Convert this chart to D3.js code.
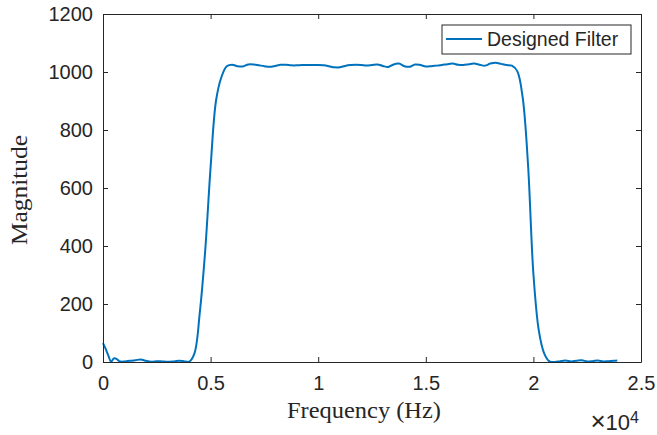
<!DOCTYPE html>
<html>
<head>
<meta charset="utf-8">
<script src="https://cdn.jsdelivr.net/npm/d3@7"></script>
<style>
  body { margin: 0; background: #fff; }
  svg text { fill: #262626; }
</style>
</head>
<body>
<div id="chart"></div>
<script>
const width = 657;
const height = 435;
const margin = { left: 103, top: 14, right: 16, bottom: 73 };
const chartWidth = width - margin.left - margin.right;
const chartHeight = height - margin.top - margin.bottom;

// frequency grid (Hz) and magnitude
const frequency = [
  0, 125, 250, 375, 500, 625, 750, 875, 1000, 1250, 1500, 1750, 2000, 2250, 2500, 2750, 3000, 3250, 3500, 3750,
  4000, 4250, 4500, 4750, 5000, 5250, 5500, 5750, 6000, 6250, 6500, 6750, 7000, 7250, 7500, 7750,
  8000, 8250, 8500, 8750, 9000, 9250, 9500, 9750, 10000, 10250, 10500, 10750, 11000, 11250, 11500, 11750,
  12000, 12250, 12500, 12750, 13000, 13250, 13500, 13750, 14000, 14250, 14500, 14750, 15000, 15250, 15500, 15750,
  16000, 16250, 16500, 16750, 17000, 17250, 17500, 17750, 18000, 18250, 18500, 18750, 19000, 19250, 19500, 19750,
  20000, 20250, 20500, 20750, 21000, 21250, 21500, 21750, 22000, 22250, 22500, 22750, 23000, 23250, 23500, 23750,
  23900,
];
const magnitude = [
  65, 45, 22, 1, 12, 11, 3, 1, 2, 4, 6, 9, 4, 1, 3, 2, 1, 2, 4, 3,
  1, 30, 172, 385, 672, 900, 982, 1020, 1025, 1020, 1019, 1026, 1026, 1023, 1020, 1018,
  1021, 1025, 1025, 1023, 1023, 1024, 1024, 1024, 1024, 1023, 1020, 1016, 1016, 1021, 1024, 1025,
  1024, 1022, 1024, 1026, 1021, 1017, 1026, 1029, 1020, 1018, 1026, 1024, 1019, 1020, 1022, 1024,
  1027, 1029, 1025, 1024, 1027, 1029, 1025, 1022, 1029, 1032, 1028, 1024, 1022, 1003, 913, 681,
  304, 109, 30, 2, 0, 3, 5, 2, 4, 6, 2, 3, 5, 2, 3, 4,
  5,
];

const xTicks = [0, 5000, 10000, 15000, 20000, 25000];
const xTickLabels = ["0", "0.5", "1", "1.5", "2", "2.5"];
const yTicks = [0, 200, 400, 600, 800, 1000, 1200];

const axisColor = "#262626";
const lineColor = "#0072bd";
const tickLen = 5;
const sansFont = "'Liberation Sans', Arial, sans-serif";
const serifFont = "'Liberation Serif', 'Times New Roman', serif";

const data = frequency.map((f, i) => ({ f: f, m: magnitude[i] }));

const svg = d3
  .select("#chart")
  .append("svg")
  .attr("width", width)
  .attr("height", height)
  .append("g")
  .attr("transform", "translate(" + margin.left + "," + margin.top + ")");

const x = d3.scaleLinear().domain([0, 25000]).range([0, chartWidth]);
const y = d3.scaleLinear().domain([0, 1200]).range([chartHeight, 0]);

// curve
svg
  .append("path")
  .datum(data)
  .attr("fill", "none")
  .attr("stroke", lineColor)
  .attr("stroke-width", 2)
  .attr("stroke-linejoin", "round")
  .attr(
    "d",
    d3
      .line()
      .curve(d3.curveCatmullRom.alpha(0.5))
      .x((d) => x(d.f))
      .y((d) => y(d.m))
  );

// axes
const bottomAxis = svg
  .append("g")
  .attr("transform", "translate(0," + chartHeight + ")")
  .call(
    d3
      .axisBottom(x)
      .tickValues(xTicks)
      .tickFormat((d, i) => xTickLabels[i])
      .tickSizeInner(-tickLen)
      .tickSizeOuter(0)
      .tickPadding(14)
  );

const leftAxis = svg
  .append("g")
  .call(
    d3
      .axisLeft(y)
      .tickValues(yTicks)
      .tickFormat(d3.format("d"))
      .tickSizeInner(-tickLen)
      .tickSizeOuter(0)
      .tickPadding(10)
  );

const topAxis = svg
  .append("g")
  .call(d3.axisTop(x).tickValues(xTicks).tickFormat("").tickSizeInner(-tickLen).tickSizeOuter(0));

const rightAxis = svg
  .append("g")
  .attr("transform", "translate(" + chartWidth + ",0)")
  .call(d3.axisRight(y).tickValues(yTicks).tickFormat("").tickSizeInner(-tickLen).tickSizeOuter(0));

[bottomAxis, leftAxis, topAxis, rightAxis].forEach((a) => {
  a.select(".domain").attr("stroke", axisColor).attr("stroke-width", 1);
  a.selectAll(".tick line").attr("stroke", axisColor).attr("stroke-width", 1);
  a.selectAll(".tick text")
    .attr("fill", axisColor)
    .style("font-family", sansFont)
    .style("font-size", "20px");
});

// axis labels
svg
  .append("text")
  .attr("x", chartWidth / 2 - 8)
  .attr("y", chartHeight + 56)
  .attr("text-anchor", "middle")
  .attr("textLength", 154)
  .attr("lengthAdjust", "spacingAndGlyphs")
  .style("font-family", serifFont)
  .style("font-size", "23px")
  .text("Frequency (Hz)");

svg
  .append("text")
  .attr("transform", "translate(" + -76 + "," + (chartHeight / 2 + 2) + ") rotate(-90)")
  .attr("text-anchor", "middle")
  .attr("textLength", 110)
  .attr("lengthAdjust", "spacingAndGlyphs")
  .style("font-family", serifFont)
  .style("font-size", "23px")
  .text("Magnitude");

// x10^4 exponent
const expo = svg
  .append("text")
  .attr("x", chartWidth - 2)
  .attr("y", chartHeight + 68)
  .attr("text-anchor", "end")
  .style("font-family", sansFont)
  .style("font-size", "22px");
expo.append("tspan").style("font-size", "26px").text("\u00d7");
expo.append("tspan").text("10");
expo.append("tspan").attr("dy", -7).style("font-size", "16px").text("4");

// legend
const legend = svg.append("g").attr("transform", "translate(" + (chartWidth - 199) + ",11)");
legend
  .append("rect")
  .attr("width", 189)
  .attr("height", 29)
  .attr("fill", "#fff")
  .attr("stroke", axisColor)
  .attr("stroke-width", 1);
legend
  .append("line")
  .attr("x1", 4)
  .attr("x2", 40)
  .attr("y1", 14)
  .attr("y2", 14)
  .attr("stroke", lineColor)
  .attr("stroke-width", 2);
legend
  .append("text")
  .attr("x", 45)
  .attr("y", 21)
  .style("font-family", sansFont)
  .style("font-size", "19.5px")
  .text("Designed Filter");
</script>
</body>
</html>
